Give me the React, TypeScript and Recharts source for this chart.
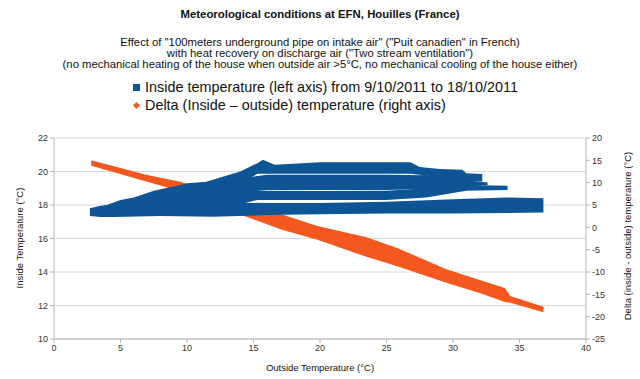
import React from 'react'
import { ComposedChart, Area, XAxis, YAxis, CartesianGrid } from 'recharts'

// outside temperature (°C) ticks and axis ticks
const xTicks = [0, 5, 10, 15, 20, 25, 30, 35, 40]
const leftTicks = [10, 12, 14, 16, 18, 20, 22]
const rightTicks = [-25, -20, -15, -10, -5, 0, 5, 10, 15, 20]

// delta (inside - outside) envelope, right axis
const deltaOutside = [2.8, 7.0, 9.5, 14.7, 17.2, 19.8, 23.5, 25.8, 29.5, 32.0, 33.9, 34.3, 36.8]
const deltaLow = [13.8, 10.2, 8.1, 2.1, -0.6, -2.8, -6.6, -8.7, -12.4, -14.7, -16.7, -16.9, -19.0]
const deltaHigh = [15.0, 11.7, 10.2, 5.0, 2.8, 0.3, -2.2, -4.6, -9.4, -11.8, -13.6, -15.4, -17.8]

// inside temperature, left axis: the daily loops read as four bands
const band1Outside = [2.7, 3.5, 4.5, 8, 12, 16, 20, 25, 30, 34, 36.8]
const band1Low = [17.35, 17.28, 17.28, 17.35, 17.3, 17.4, 17.45, 17.5, 17.5, 17.52, 17.55]
const band1High = [17.8, 17.95, 18.05, 18.15, 18.15, 18.12, 18.12, 18.2, 18.35, 18.45, 18.4]

const band2Outside = [3.8, 5, 7, 10, 14, 15.3, 20, 25, 28, 31, 34.1]
const band2Low = [17.6, 17.7, 17.85, 18.0, 18.05, 18.3, 18.3, 18.3, 18.45, 18.85, 18.9]
const band2High = [17.95, 18.3, 18.6, 18.85, 18.88, 18.85, 18.84, 18.85, 19.0, 19.2, 19.15]

const band3Outside = [6, 7.5, 9.5, 10, 12.5, 14, 16, 20, 25, 28, 30, 32.6]
const band3Low = [18.0, 18.0, 18.2, 18.3, 18.6, 18.75, 18.9, 18.9, 18.9, 18.95, 19.05, 19.2]
const band3High = [18.45, 18.85, 19.2, 19.3, 19.45, 19.6, 19.8, 19.8, 19.8, 19.78, 19.55, 19.35]

const band4Outside = [11.5, 14, 15.3, 15.7, 16.6, 20, 26.8, 27.5, 29, 30.7, 31, 32.2]
const band4Low = [19.0, 19.3, 19.86, 19.86, 19.86, 19.86, 19.86, 19.8, 19.5, 19.4, 19.4, 19.4]
const band4High = [19.4, 20.0, 20.5, 20.7, 20.4, 20.55, 20.55, 20.27, 20.15, 20.1, 19.9, 19.85]

const BLUE = '#0e5596'
const ORANGE = '#f4581f'
const FONT = '"Liberation Sans", Arial, sans-serif'

function rowsFor(key: string, xs: number[], lo: number[], hi: number[]) {
  return xs.map((x, i) => ({ x, [key]: [lo[i], hi[i]] }))
}

const data = [
  ...rowsFor('delta', deltaOutside, deltaLow, deltaHigh),
  ...rowsFor('b1', band1Outside, band1Low, band1High),
  ...rowsFor('b2', band2Outside, band2Low, band2High),
  ...rowsFor('b3', band3Outside, band3Low, band3High),
  ...rowsFor('b4', band4Outside, band4Low, band4High),
].sort((a, b) => a.x - b.x)

const tickStyle = { fill: '#333', fontSize: 9, fontFamily: FONT }
const axisStroke = '#b8b8b8'

export default function App() {
  return (
    <div
      style={{
        position: 'absolute',
        left: 0,
        top: 0,
        width: 640,
        height: 379,
        background: '#fff',
        fontFamily: FONT,
        color: '#111',
      }}
    >
      <div style={{ position: 'absolute', top: 8, width: 640, textAlign: 'center', fontSize: 11.4, fontWeight: 'bold' }}>
        Meteorological conditions at EFN, Houilles (France)
      </div>
      <div
        style={{ position: 'absolute', top: 37, width: 640, textAlign: 'center', fontSize: 11.3, lineHeight: '11px' }}
      >
        Effect of "100meters underground pipe on intake air" ("Puit canadien" in French)
        <br />
        with heat recovery on discharge air ("Two stream ventilation")
        <br />
        (no mechanical heating of the house when outside air &gt;5°C, no mechanical cooling of the house either)
      </div>
      <div style={{ position: 'absolute', top: 79, left: 133, fontSize: 14.4, lineHeight: '17.5px' }}>
        <div style={{ display: 'flex', alignItems: 'center' }}>
          <span style={{ width: 7, height: 7, background: BLUE, marginRight: 5, display: 'inline-block' }} />
          Inside temperature (left axis) from 9/10/2011 to 18/10/2011
        </div>
        <div style={{ display: 'flex', alignItems: 'center' }}>
          <span
            style={{
              width: 5,
              height: 5,
              background: ORANGE,
              margin: '0 6px 0 1px',
              display: 'inline-block',
              transform: 'rotate(45deg)',
            }}
          />
          Delta (Inside – outside) temperature (right axis)
        </div>
      </div>

      <ComposedChart
        width={640}
        height={379}
        data={data}
        margin={{ top: 138, right: 24, bottom: 10, left: 24 }}
        style={{ position: 'absolute', left: 0, top: 0 }}
      >
        <CartesianGrid yAxisId="left" vertical={false} stroke="#d8d8d8" />
        <XAxis
          dataKey="x"
          type="number"
          domain={[0, 40]}
          ticks={xTicks}
          height={30}
          tick={tickStyle}
          tickSize={4}
          stroke={axisStroke}
        />
        <YAxis
          yAxisId="left"
          domain={[10, 22]}
          ticks={leftTicks}
          width={30}
          tick={tickStyle}
          tickSize={4}
          stroke={axisStroke}
        />
        <YAxis
          yAxisId="right"
          orientation="right"
          domain={[-25, 20]}
          ticks={rightTicks}
          width={30}
          tick={tickStyle}
          tickSize={4}
          stroke={axisStroke}
        />
        <Area
          yAxisId="right"
          dataKey="delta"
          type="linear"
          stroke="none"
          fill={ORANGE}
          fillOpacity={1}
          connectNulls
          isAnimationActive={false}
        />
        {['b1', 'b2', 'b3', 'b4'].map((k) => (
          <Area
            key={k}
            yAxisId="left"
            dataKey={k}
            type="linear"
            stroke="none"
            fill={BLUE}
            fillOpacity={1}
            connectNulls
            isAnimationActive={false}
          />
        ))}
      </ComposedChart>

      <div
        style={{
          position: 'absolute',
          left: 19,
          top: 238,
          fontSize: 9.5,
          whiteSpace: 'nowrap',
          transform: 'translate(-50%, -50%) rotate(-90deg)',
        }}
      >
        Inside Temperature  (°C)
      </div>
      <div
        style={{
          position: 'absolute',
          left: 627,
          top: 236,
          fontSize: 9.5,
          whiteSpace: 'nowrap',
          transform: 'translate(-50%, -50%) rotate(-90deg)',
        }}
      >
        Delta (inside - outside) temperature (°C)
      </div>
      <div style={{ position: 'absolute', top: 362, width: 640, textAlign: 'center', fontSize: 9.5 }}>
        Outside Temperature (°C)
      </div>
    </div>
  )
}
